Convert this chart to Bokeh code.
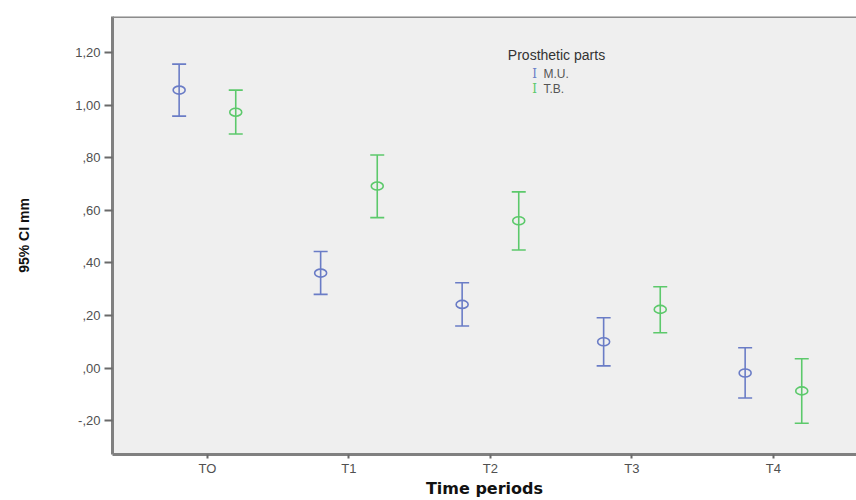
import numpy as np
from bokeh.plotting import figure
from bokeh.models import Range1d, FixedTicker, Label, ColumnDataSource, Span
from bokeh.embed import file_html
from bokeh.resources import INLINE

# ---- data ----
periods = ["TO", "T1", "T2", "T3", "T4"]
series_names = ["M.U.", "T.B."]
mu_mean = [1.057, 0.361, 0.242, 0.100, -0.019]
mu_upper = [1.156, 0.443, 0.324, 0.191, 0.077]
mu_lower = [0.958, 0.280, 0.160, 0.008, -0.114]
tb_mean = [0.973, 0.692, 0.560, 0.223, -0.087]
tb_upper = [1.057, 0.810, 0.670, 0.309, 0.035]
tb_lower = [0.890, 0.572, 0.449, 0.134, -0.210]
y_ticks = [-0.2, 0.0, 0.2, 0.4, 0.6, 0.8, 1.0, 1.2]
y_tick_labels = ["-,20", ",00", ",20", ",40", ",60", ",80", "1,00", "1,20"]

colors = ["#6a7cc6", "#5cc96b"]
offset = 0.2

W, H = 856, 500
BL, BR, BT, BB = 112, 0, 16, 46
FW, FH = W - BL - BR, H - BT - BB
x0 = -0.671
x1 = x0 + FW / 141.5
y0, y1 = -0.329, 1.337

def px_x(px):
    return x0 + px / FW * (x1 - x0)

def px_y(py):  # py measured from top of frame
    return y1 - py / FH * (y1 - y0)

p = figure(width=W, height=H, output_backend="svg", toolbar_location=None,
           x_range=Range1d(x0, x1), y_range=Range1d(y0, y1))
p.min_border_left = BL
p.min_border_right = BR
p.min_border_top = BT
p.min_border_bottom = BB
p.background_fill_color = "#efefef"
p.border_fill_color = "white"
p.outline_line_color = None
p.grid.visible = False

xs = np.arange(len(periods))
for i, (mean, up, lo) in enumerate([(mu_mean, mu_upper, mu_lower), (tb_mean, tb_upper, tb_lower)]):
    xx = xs + (-offset if i == 0 else offset)
    src = ColumnDataSource(dict(x=xx, m=mean, u=up, l=lo))
    c = colors[i]
    p.segment(x0="x", y0="l", x1="x", y1="u", source=src, line_color=c, line_width=1.6)
    p.scatter(x="x", y="u", source=src, marker="dash", size=14, line_color=c, line_width=1.6)
    p.scatter(x="x", y="l", source=src, marker="dash", size=14, line_color=c, line_width=1.6)
    p.ellipse(x="x", y="m", source=src, width=12, height=8, width_units="screen",
              height_units="screen", fill_color=None, line_color=c, line_width=1.6)

# top border
p.add_layout(Span(location=y1, dimension="width", line_color="#8c8c8c", line_width=3))

# axes
p.yaxis.ticker = FixedTicker(ticks=y_ticks)
p.yaxis.major_label_overrides = {t: l for t, l in zip(y_ticks, y_tick_labels)}
p.xaxis.ticker = FixedTicker(ticks=list(xs))
p.xaxis.major_label_overrides = {int(i): c for i, c in zip(xs, periods)}
for ax in (p.xaxis, p.yaxis):
    ax.axis_line_color = "#808080"
    ax.axis_line_width = 3
    ax.major_tick_line_color = "#6a6a6a"
    ax.major_tick_line_width = 2
    ax.major_tick_in = 0
    ax.minor_tick_line_color = None
    ax.major_label_text_font = "Liberation Sans"
    ax.major_label_text_font_size = "13px"
    ax.major_label_text_color = "#505050"
p.yaxis.major_tick_out = 8
p.yaxis.major_label_standoff = 4
p.xaxis.major_tick_out = 4
p.xaxis.major_label_standoff = 2

p.yaxis.axis_label = "95% CI mm"
p.yaxis.axis_label_text_font = "Liberation Sans"
p.yaxis.axis_label_text_font_style = "bold"
p.yaxis.axis_label_text_font_size = "14px"
p.yaxis.axis_label_text_color = "#111111"
p.yaxis.axis_label_standoff = 40

p.xaxis.axis_label = "Time periods"
p.xaxis.axis_label_text_font = "DejaVu Sans"
p.xaxis.axis_label_text_font_style = "bold"
p.xaxis.axis_label_text_font_size = "16px"
p.xaxis.axis_label_text_color = "#111111"
p.xaxis.axis_label_standoff = 0

# legend
lx = 444
p.add_layout(Label(x=px_x(lx), y=px_y(38), text="Prosthetic parts",
                   text_font="Liberation Sans", text_font_size="14px", text_color="#333333",
                   text_align="center", text_baseline="middle"))
for k, name in enumerate(series_names):
    yy = px_y(57 + 15 * k)
    p.add_layout(Label(x=px_x(lx - 22), y=yy, text="I", text_font="DejaVu Serif",
                       text_font_size="12px", text_color=colors[k], text_align="center",
                       text_baseline="middle"))
    p.add_layout(Label(x=px_x(lx - 13), y=yy, text=name, text_font="Liberation Sans",
                       text_font_size="12px", text_color="#555555", text_align="left",
                       text_baseline="middle"))

open("out.html", "w").write(file_html(p, INLINE))
